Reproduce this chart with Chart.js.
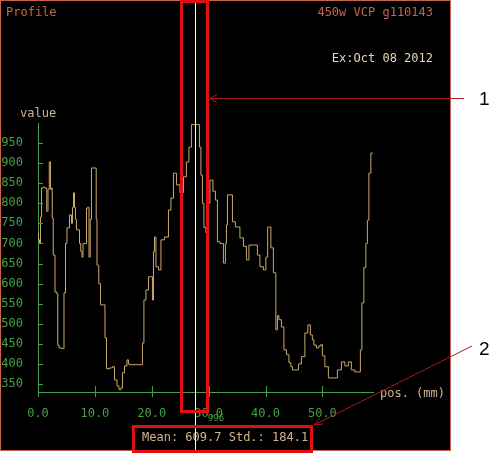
<!DOCTYPE html>
<html>
<head>
<meta charset="utf-8">
<script src="https://cdn.jsdelivr.net/npm/chart.js@4"></script>
<style>
html, body { margin: 0; padding: 0; background: #fff; }
</style>
</head>
<body>
<canvas id="profileChart" width="500" height="456"></canvas>
<script>
// profile samples: position (mm) and value
const posMm = [
    0.0, 0.18, 0.35, 0.53, 0.7, 1.05, 1.41, 1.67, 1.85, 2.11, 2.28, 2.46, 2.55, 2.81, 3.16, 3.43, 3.51, 3.87, 4.39,
    4.75, 4.92, 5.27, 5.8, 5.98, 6.15, 6.33, 6.5, 6.68, 6.85, 7.21, 7.38, 7.65, 7.82, 8.0, 8.44, 8.61, 8.88,
    9.05, 9.31, 9.49, 10.19, 10.28, 10.46, 10.9, 11.07, 11.6, 11.95, 12.13, 13.0, 13.18, 13.71, 14.06, 14.41,
    14.76, 14.94, 15.47, 15.82, 15.99, 16.17, 18.28, 18.45, 18.8, 19.16, 19.68, 20.04, 20.21, 20.39, 20.56,
    20.91, 21.44, 21.79, 22.67, 23.2, 23.55, 24.08, 24.61, 25.31, 25.83, 26.36, 26.71, 27.24, 28.3, 28.47,
    28.82, 29.0, 29.35, 29.7, 30.05, 30.4, 30.58, 30.93, 31.46, 31.63, 32.34, 32.86, 33.04, 33.22, 33.39,
    34.1, 34.27, 35.15, 35.85, 36.38, 36.91, 37.26, 38.49, 38.66, 39.37, 39.89, 40.25, 40.51, 40.77, 41.12,
    41.65, 42.0, 42.18, 42.53, 43.06, 43.41, 43.94, 44.29, 44.64, 44.82, 45.52, 46.05, 46.57, 47.28, 47.63,
    48.15, 48.33, 48.68, 49.21, 49.56, 49.91, 50.09, 50.79, 51.32, 52.2, 53.08, 53.6, 54.31, 54.83, 55.36,
    56.06, 56.59, 56.77, 57.12, 57.47, 57.82, 58.0, 58.35, 58.7, 58.88
];
const values = [
    726, 709, 700, 766, 838, 840, 838, 780, 835, 903, 835, 838, 763, 671, 579, 575, 447, 440, 438,
    577, 700, 739, 771, 750, 790, 826, 790, 760, 734, 734, 700, 680, 666, 700, 700, 788, 790,
    666, 760, 888, 888, 760, 646, 600, 547, 547, 465, 388, 390, 393, 360, 345, 336,
    340, 378, 395, 410, 400, 398, 398, 452, 559, 584, 617, 617, 559, 680, 716,
    642, 634, 709, 716, 783, 813, 875, 846, 826, 866, 903, 940, 996, 996, 940,
    870, 800, 740, 726, 800, 858, 858, 830, 808, 704, 700, 651, 700, 746, 821,
    821, 754, 741, 714, 693, 659, 696, 696, 671, 642, 634, 666, 741, 741, 689,
    627, 485, 520, 510, 492, 435, 423, 403, 393, 385, 385, 400, 418, 477, 497,
    472, 460, 447, 440, 445, 448, 420, 393, 365, 365, 385, 405, 395, 405, 385,
    380, 380, 435, 552, 640, 700, 758, 875, 925, 925
];
const xTickValues = [0, 10, 20, 30, 40, 50];
const yTickValues = [350, 400, 450, 500, 550, 600, 650, 700, 750, 800, 850, 900, 950];
const cursorPos = 27.68;
const cursorValue = '996';
const statsText = 'Mean: 609.7 Std.: 184.1';

const green = '#46a046';
const tan = '#d2b48c';
const salmon = '#c8644c';
const red = '#e01010';
const mono = '"DejaVu Sans Mono", monospace';

// frame, labels, cursor and call-out marks around the plot
const decorPlugin = {
    id: 'decor',
    beforeDraw(chart) {
        const ctx = chart.ctx;
        ctx.save();
        ctx.fillStyle = '#fff';
        ctx.fillRect(0, 0, 500, 456);
        ctx.fillStyle = '#000';
        ctx.fillRect(0, 0, 451, 451);
        ctx.strokeStyle = salmon;
        ctx.lineWidth = 1;
        ctx.strokeRect(0.5, 0.5, 450, 450);
        ctx.restore();
    },
    afterDraw(chart) {
        const ctx = chart.ctx;
        const x = chart.scales.x;
        const y = chart.scales.y;
        const area = chart.chartArea;
        ctx.save();

        // inward tick marks
        ctx.strokeStyle = green;
        ctx.lineWidth = 1;
        ctx.beginPath();
        yTickValues.forEach(v => {
            const py = Math.round(y.getPixelForValue(v)) + 0.5;
            ctx.moveTo(area.left, py);
            ctx.lineTo(area.left + 5, py);
        });
        xTickValues.forEach(v => {
            const px = Math.round(x.getPixelForValue(v)) + 0.5;
            ctx.moveTo(px, area.bottom - 6);
            ctx.lineTo(px, area.bottom + 5);
        });
        ctx.stroke();

        ctx.font = '12px ' + mono;
        ctx.textBaseline = 'middle';
        ctx.fillStyle = salmon;
        ctx.textAlign = 'left';
        ctx.fillText('Profile', 6, 13);
        ctx.textAlign = 'right';
        ctx.fillText('450w VCP g110143', 433, 13);
        ctx.fillStyle = '#e8d8b8';
        ctx.fillText('Ex:Oct 08 2012', 433, 59);
        ctx.fillStyle = tan;
        ctx.textAlign = 'left';
        ctx.fillText('value', 20, 114);
        ctx.fillText('pos. (mm)', 380, 394);
        ctx.fillText(statsText, 142, 438);

        const cx = Math.round(x.getPixelForValue(cursorPos)) + 0.5;
        ctx.font = '9px ' + mono;
        ctx.fillStyle = green;
        ctx.textAlign = 'center';
        ctx.fillText(cursorValue, 216, 419);

        // cursor line
        ctx.strokeStyle = '#fff';
        ctx.lineWidth = 1;
        ctx.beginPath();
        ctx.moveTo(cx, 0);
        ctx.lineTo(cx, 456);
        ctx.stroke();

        // call-out boxes
        ctx.strokeStyle = red;
        ctx.lineWidth = 3;
        ctx.strokeRect(181.5, 1.5, 26, 410);
        ctx.strokeRect(133.5, 426.5, 178, 25);

        // leader lines with arrow heads
        ctx.strokeStyle = '#a81c1c';
        ctx.lineWidth = 1;
        ctx.beginPath();
        ctx.moveTo(210, 98.5);
        ctx.lineTo(464, 98.5);
        ctx.moveTo(217, 94.5);
        ctx.lineTo(210, 98.5);
        ctx.lineTo(217, 102.5);
        ctx.moveTo(314, 425);
        ctx.lineTo(472, 346);
        ctx.moveTo(314, 425);
        ctx.lineTo(320, 418);
        ctx.moveTo(314, 425);
        ctx.lineTo(323, 424);
        ctx.stroke();

        ctx.fillStyle = '#000';
        ctx.font = '19px "Liberation Sans", Arial, sans-serif';
        ctx.textAlign = 'left';
        ctx.fillText('1', 479, 100);
        ctx.fillText('2', 479, 350);
        ctx.restore();
    }
};

const ctx = document.getElementById('profileChart').getContext('2d');
new Chart(ctx, {
    type: 'line',
    data: {
        datasets: [{
            label: 'Profile',
            data: posMm.map((p, i) => ({ x: p, y: values[i] })),
            borderColor: '#ccaa6c',
            borderWidth: 1,
            pointRadius: 0,
            fill: false,
            stepped: 'middle'
        }]
    },
    options: {
        responsive: false,
        animation: false,
        devicePixelRatio: 1,
        layout: { padding: { left: 0, top: 123, right: 127, bottom: 0 } },
        plugins: {
            legend: { display: false },
            tooltip: { enabled: false }
        },
        scales: {
            x: {
                type: 'linear',
                min: 0,
                max: 58.9,
                afterBuildTicks: s => { s.ticks = xTickValues.map(v => ({ value: v })); },
                afterFit: s => { s.height = 64; },
                grid: { display: false },
                border: { color: green, width: 1 },
                ticks: {
                    color: green,
                    font: { family: mono, size: 12 },
                    padding: 7,
                    maxRotation: 0,
                    autoSkip: false,
                    callback: v => Number(v).toFixed(1)
                }
            },
            y: {
                type: 'linear',
                min: 330,
                max: 1000,
                afterBuildTicks: s => { s.ticks = yTickValues.map(v => ({ value: v })); },
                afterFit: s => { s.width = 38; },
                grid: { display: false },
                border: { color: green, width: 1 },
                ticks: {
                    color: green,
                    font: { family: mono, size: 12 },
                    padding: 7,
                    autoSkip: false
                }
            }
        }
    },
    plugins: [decorPlugin]
});
</script>
</body>
</html>
